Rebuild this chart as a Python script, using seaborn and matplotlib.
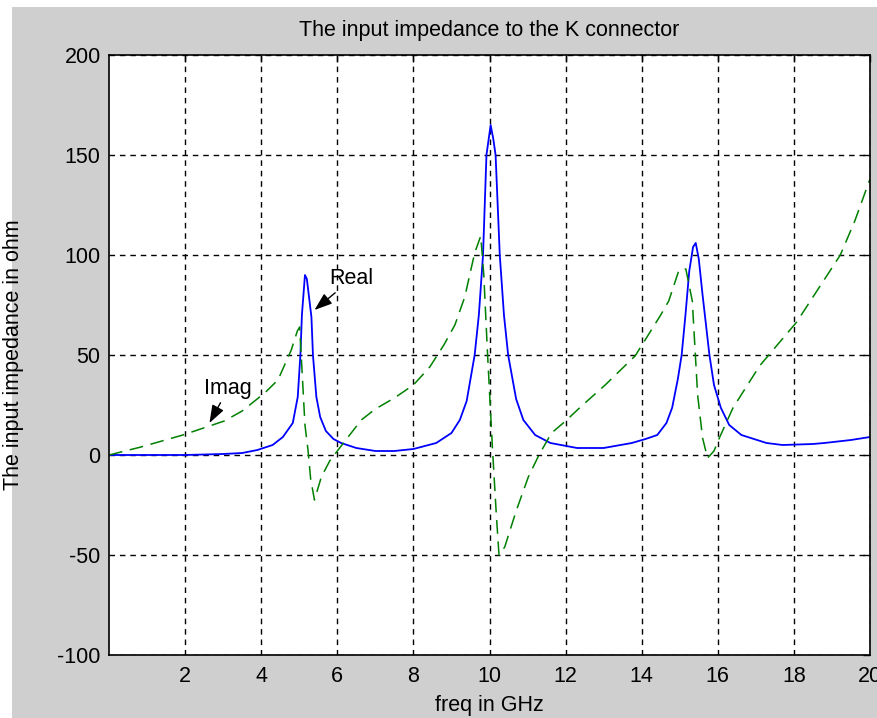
import matplotlib
matplotlib.use("Agg")
import matplotlib.pyplot as plt
from matplotlib.patches import Rectangle
import seaborn as sns

# Real part of the input impedance (freq in GHz, ohm)
real_freq = [0.0, 1.0, 2.0, 3.0, 3.5, 3.9, 4.3, 4.57, 4.7, 4.83, 4.96, 5.03, 5.07,
             5.15, 5.2, 5.32, 5.36, 5.45, 5.55, 5.7, 5.9, 6.1, 6.5, 7.0, 7.5,
             8.0, 8.2, 8.6, 9.0, 9.22, 9.4, 9.61, 9.72, 9.83, 9.92, 10.03, 10.1,
             10.16, 10.27, 10.38, 10.49, 10.7, 10.89, 11.2, 11.6, 12.3, 13.0,
             13.74, 14.1, 14.41, 14.65, 14.8, 14.95, 15.05, 15.15, 15.25, 15.35,
             15.42, 15.5, 15.6, 15.78, 15.9, 16.08, 16.3, 16.62, 17.28, 17.7,
             18.5, 18.8, 19.5, 20.0]
real_val = [0, 0, 0, 0.5, 1, 2.5, 5, 9, 12.5, 16, 29, 50, 70,
            90, 88, 69, 50, 29, 19, 12, 8, 6, 3.5, 2, 2,
            3, 4, 6, 11, 17.5, 27, 50, 70, 100, 150, 165, 158,
            150, 100, 70, 50, 28, 17.5, 10, 6, 3.5, 3.5,
            6, 8, 10, 16, 23.6, 38, 50, 70, 92, 104,
            106, 98, 80, 50, 35, 23.6, 15, 10, 6, 5,
            5.5, 6, 7.5, 9]

# Imaginary part
imag_freq = [0.0, 0.84, 1.94, 3.03, 3.5, 4.09, 4.44, 4.79, 4.95, 5.01, 5.08, 5.15,
             5.23, 5.3, 5.4, 5.58, 5.8, 6.02, 6.63, 7.0, 7.5, 8.0, 8.43, 8.8,
             9.09, 9.35, 9.61, 9.77, 9.85, 9.95, 10.08, 10.18, 10.25, 10.4, 10.7,
             11.02, 11.3, 11.63, 12.0, 12.42, 13.04, 13.83, 14.5, 14.71, 14.98,
             15.16, 15.33, 15.47, 15.6, 15.73, 15.9, 16.04, 16.4, 17.1, 18.07,
             19.22, 19.6, 20.0]
imag_val = [0, 4, 10, 17, 22, 31, 37.5, 52.5, 62, 64, 40, 15,
            2.5, -12, -22.5, -11, -3, 2.5, 17.5, 23, 28.5, 35, 44, 55,
            65, 79, 101, 109.5, 90, 50, 2.5, -30, -50, -46, -28,
            -11, 0, 11, 17, 24.5, 35, 49.6, 70, 77, 92.5,
            93, 77, 30, 8.5, -1.5, 2, 8.5, 23.6, 44.6, 66.4,
            100, 117, 138]

x_ticks = [2, 4, 6, 8, 10, 12, 14, 16, 18, 20]
y_ticks = [-100, -50, 0, 50, 100, 150, 200]

sns.set_style("white")
plt.rcParams['font.family'] = ['Liberation Sans', 'DejaVu Sans']
plt.rcParams['axes.unicode_minus'] = False
plt.rcParams['text.color'] = 'black'
plt.rcParams['axes.labelcolor'] = 'black'
fs = 15.5

fig = plt.figure(figsize=(8.78, 7.18), dpi=100, facecolor='white')
# gray window background, leaving thin white strips on the left and top
fig.patches.append(Rectangle((12 / 878, 0), 1, 1 - 7 / 718, transform=fig.transFigure,
                             facecolor='#cfcfcf', edgecolor='none', zorder=-1))
ax = fig.add_axes([109 / 878, 1 - 655 / 718, 761 / 878, 600 / 718])
ax.set_facecolor('white')

sns.lineplot(x=real_freq, y=real_val, ax=ax, color='blue', lw=1.3,
             sort=False, estimator=None)
sns.lineplot(x=imag_freq, y=imag_val, ax=ax, color='#008000', lw=1.1,
             sort=False, estimator=None, linestyle=(0, (9, 5)))

ax.set_xlim(0, 20)
ax.set_ylim(-100, 200)
ax.set_xticks(x_ticks)
ax.set_yticks(y_ticks)
ax.tick_params(direction='in', length=5, width=1, top=True, right=True,
               labelsize=fs, colors='black')
ax.tick_params(axis='x', pad=8)
ax.tick_params(axis='y', pad=6)
ax.grid(True, color='black', linestyle=(0, (4, 3.5)), linewidth=1.0)
for s in ax.spines.values():
    s.set_visible(True)
    s.set_color('black')
    s.set_linewidth(1.2)

ax.set_title('The input impedance to the K connector', fontsize=fs, pad=14,
             color='black')
ax.set_xlabel('freq in GHz', fontsize=fs)
ax.set_ylabel('The input impedance in ohm', fontsize=fs)
ax.xaxis.set_label_coords(0.5, -0.066)
ax.yaxis.set_label_coords(-0.112, 0.5)

arrow = dict(arrowstyle='-|>,head_length=0.7,head_width=0.25', color='black',
             lw=1, shrinkA=0, shrinkB=0)
ax.annotate('Real', xy=(5.4, 72.5), xytext=(5.8, 88), fontsize=fs,
            ha='left', va='center', arrowprops=arrow)
ax.annotate('Imag', xy=(2.64, 16), xytext=(2.5, 33), fontsize=fs,
            ha='left', va='center', arrowprops=arrow)

fig.savefig('out.png', dpi=100, facecolor=fig.get_facecolor())
